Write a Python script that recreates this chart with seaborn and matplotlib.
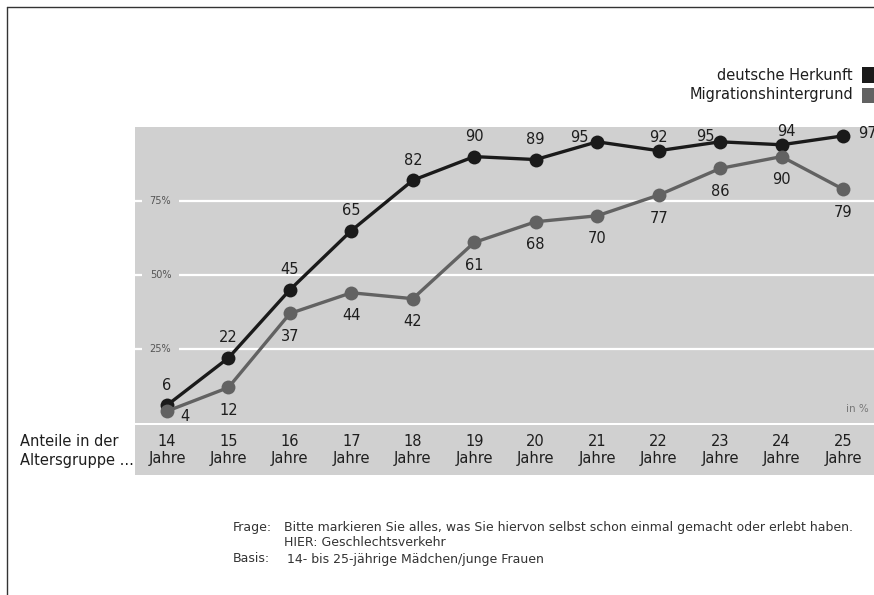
import matplotlib
matplotlib.use("Agg")
import numpy as np
import pandas as pd
import seaborn as sns
import matplotlib.pyplot as plt
from matplotlib.patches import Rectangle
from matplotlib.lines import Line2D
import matplotlib.transforms as mtransforms

# ---- data ----
ages = [14, 15, 16, 17, 18, 19, 20, 21, 22, 23, 24, 25]
age_labels = [f"{a}\nJahre" for a in ages]
deutsch = [6, 22, 45, 65, 82, 90, 89, 95, 92, 95, 94, 97]
migration = [4, 12, 37, 44, 42, 61, 68, 70, 77, 86, 90, 79]
series_names = ["deutsche Herkunft", "Migrationshintergrund"]
grid_values = [25, 50, 75]
grid_labels = ["25%", "50%", "75%"]

sns.set_theme(style="white")
plt.rcParams['font.family'] = ['DejaVu Sans']

W, H = 874, 595
fig = plt.figure(figsize=(W / 100, H / 100), dpi=100)
fig.patch.set_facecolor('white')


def px(l, t, r, b):
    return [l / W, 1 - b / H, (r - l) / W, (b - t) / H]


GRAY = '#d0d0d0'
BLACK = '#1a1a1a'
MGRAY = '#626262'
TXT = '#1e1e1e'
FS = 10.5

ax = fig.add_axes(px(135, 127, 874, 423))
ax.set_facecolor(GRAY)

df = pd.DataFrame({
    'Alter': ages * 2,
    'Wert': deutsch + migration,
    'Gruppe': [series_names[0]] * len(ages) + [series_names[1]] * len(ages),
})
palette = {series_names[0]: BLACK, series_names[1]: MGRAY}
sns.lineplot(data=df, x='Alter', y='Wert', hue='Gruppe', hue_order=series_names,
             palette=palette, marker='o', markersize=10, linewidth=2.4,
             markeredgewidth=0, legend=False, ax=ax, zorder=3)

spacing = (843 - 167) / 11
ax.set_xlim(14 - (167 - 135) / spacing, 14 + (874 - 167) / spacing)
ax.set_ylim(0, 100)
for s in ax.spines.values():
    s.set_visible(False)
ax.set_xticks([])
ax.set_yticks([])
ax.set_xlabel('')
ax.set_ylabel('')

# grid lines with labels
blend = mtransforms.blended_transform_factory(ax.transAxes, ax.transData)
for v, lab in zip(grid_values, grid_labels):
    ax.axhline(v, color='white', lw=1.6, zorder=1)
    ax.text(25.5 / 739, v, lab, transform=blend, fontsize=7, color='#555555',
            ha='center', va='center', zorder=2,
            bbox=dict(facecolor=GRAY, edgecolor='none', boxstyle='square,pad=0.8'))

# data labels (offsets in pixels)
d_off = {7: (-18, 4), 8: (0, 13), 9: (-15, 5), 10: (5, 13), 11: (24, 2)}
m_off = {0: (18, -5)}
for i, (a, v) in enumerate(zip(ages, deutsch)):
    dx, dy = d_off.get(i, (0, 20))
    ax.annotate(str(v), (a, v), xytext=(dx * 0.72, dy * 0.72), textcoords='offset points',
                ha='center', va='center', fontsize=FS, color=TXT,
                annotation_clip=False, zorder=4)
for i, (a, v) in enumerate(zip(ages, migration)):
    dx, dy = m_off.get(i, (0, -23))
    ax.annotate(str(v), (a, v), xytext=(dx * 0.72, dy * 0.72), textcoords='offset points',
                ha='center', va='center', fontsize=FS, color=TXT,
                annotation_clip=False, zorder=4)

ax.text((857 - 135) / 739, 1 - (409 - 127) / 296, "in %", transform=ax.transAxes,
        fontsize=7.5, color='#777777', ha='center', va='center')

# x band
axb = fig.add_axes(px(135, 425, 874, 475))
axb.set_facecolor(GRAY)
axb.set_xlim(ax.get_xlim())
axb.set_ylim(0, 1)
for s in axb.spines.values():
    s.set_visible(False)
axb.set_xticks([])
axb.set_yticks([])
for a, lab in zip(ages, age_labels):
    axb.text(a, 0.5, lab, ha='center', va='center', fontsize=FS, color=TXT,
             linespacing=1.25)

fig.text(20 / W, 1 - 451 / H, "Anteile in der\nAltersgruppe ...", ha='left', va='center',
         fontsize=FS, color=TXT, linespacing=1.25)

# legend
leg_y = [75, 95]
for name, yy in zip(series_names, leg_y):
    fig.text(853 / W, 1 - yy / H, name, ha='right', va='center', fontsize=FS, color=TXT)
    fig.add_artist(Rectangle((862 / W, 1 - (yy + 7.5) / H), 14 / W, 15 / H,
                             transform=fig.transFigure, facecolor=palette[name],
                             edgecolor='none'))

# footer
fs = 9.0
fig.text(233 / W, 1 - 528 / H, "Frage:", fontsize=fs, color='#333333', va='center')
fig.text(284 / W, 1 - 528 / H,
         "Bitte markieren Sie alles, was Sie hiervon selbst schon einmal gemacht oder erlebt haben.",
         fontsize=fs, color='#333333', va='center')
fig.text(284 / W, 1 - 542 / H, "HIER: Geschlechtsverkehr", fontsize=fs, color='#333333', va='center')
fig.text(233 / W, 1 - 559 / H, "Basis:", fontsize=fs, color='#333333', va='center')
fig.text(287 / W, 1 - 559 / H, "14- bis 25-jährige Mädchen/junge Frauen", fontsize=fs,
         color='#333333', va='center')

# border
fig.add_artist(Line2D([6.5 / W, 6.5 / W], [0, 1 - 6.5 / H], transform=fig.transFigure,
                      color='#333333', lw=1.0))
fig.add_artist(Line2D([6.5 / W, 1], [1 - 6.5 / H, 1 - 6.5 / H], transform=fig.transFigure,
                      color='#333333', lw=1.0))

fig.savefig('out.png', dpi=100)
